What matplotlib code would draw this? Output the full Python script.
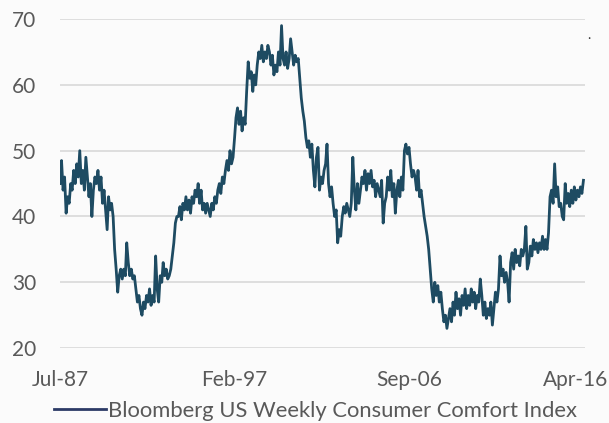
import matplotlib
matplotlib.use("Agg")
import matplotlib.pyplot as plt
import pandas as pd

# Bloomberg US Weekly Consumer Comfort Index (one value per month)
comfort = [
    45, 48.5, 44, 46, 40.5, 43,                                   # 1987 (Jul-Dec)
    42, 45, 44, 47, 45, 48, 46, 50, 45, 47, 44, 49,               # 1988
    46, 43, 45, 40, 44, 46, 45, 47, 44, 46, 42, 44,               # 1989
    41, 38, 43, 41, 42, 40, 35, 32, 28.5, 31, 32, 30.5,           # 1990
    32, 31, 36, 33, 31, 32, 30.5, 31, 29, 27, 28, 26,             # 1991
    25, 27, 26, 28, 27, 29, 26.5, 28, 27, 34, 29, 27,             # 1992
    31, 30, 33, 31, 32, 30.5, 31, 32, 34, 36, 39, 40,             # 1993
    40, 41.5, 39.5, 42, 41, 43, 41, 42.5, 40.5, 43, 42, 44,       # 1994
    43, 45, 42, 44, 41, 42, 40.5, 42, 41, 40, 42, 41,             # 1995
    43, 42, 44, 45, 43.5, 46, 45, 47, 48.5, 47, 50, 48,           # 1996
    49, 52, 55, 56.5, 54, 56, 53, 55, 54, 59, 63.5, 61,           # 1997
    62, 59, 61.5, 60, 63, 65, 64, 66, 63.5, 65, 64, 66,           # 1998
    65, 63, 64.5, 61.5, 63, 62, 65, 63, 69, 64, 63, 65,           # 1999
    62.5, 64, 67, 65, 63, 64.5, 63.5, 64, 61, 58, 56, 54.5,       # 2000
    52, 50.5, 51.5, 49, 51, 47, 44.5, 49, 50.5, 44, 46, 45,       # 2001
    47, 48, 51, 45, 43, 44.5, 42, 40, 41, 36, 38, 37,             # 2002
    40, 41.5, 40.5, 42, 41, 40, 42, 49, 44, 41, 45, 42,           # 2003
    44, 46, 45, 47, 44, 46.5, 45, 47, 44.5, 45.5, 43, 45,         # 2004
    44, 43, 45.5, 39, 42, 43, 46, 44, 47, 43, 45, 40.5,           # 2005
    44, 45.5, 43, 46, 44, 50, 51, 49.5, 50.5, 48, 46, 47,         # 2006
    46, 44, 47, 43, 44, 42, 40, 38.5, 37, 35, 32, 29,             # 2007
    27, 30, 28, 29.5, 27, 28.5, 26, 24, 25, 23, 24.5, 26,         # 2008
    24, 27, 25, 28.5, 26, 27.5, 25, 28, 26.5, 29, 26, 28,         # 2009
    26.5, 29, 27, 28.5, 26, 28, 27, 30.5, 28, 25, 27, 24.5,       # 2010
    26, 25, 27, 23.5, 26, 28.5, 27, 29, 34, 31, 32, 30,           # 2011
    31.5, 30, 27, 33, 34.5, 32, 35, 33, 34, 32.5, 35, 34,         # 2012
    35, 38.5, 32, 33, 35.5, 34, 36.5, 35, 36, 34.5, 36, 35,       # 2013
    37, 35, 36.5, 35, 37.5, 43, 44, 42, 48, 43, 44.5, 41.5,       # 2014
    42, 40, 39.5, 45, 42, 43.5, 41.5, 44, 42, 44.5, 42.5, 44,     # 2015
    43, 44.5, 43.5, 45.5,                                         # 2016 (Jan-Apr)
]
dates = pd.date_range("1987-07-01", periods=len(comfort), freq="MS")
tick_dates = pd.to_datetime(["1987-07-01", "1997-02-01", "2006-09-01", "2016-04-01"])
tick_labels = ["Jul-87", "Feb-97", "Sep-06", "Apr-16"]
y_ticks = [20, 30, 40, 50, 60, 70]

text_col = "#595959"
line_col = "#1e4b62"

plt.rcParams["font.family"] = ["Lato", "DejaVu Sans"]

fig = plt.figure(figsize=(6.09, 4.23), dpi=100)
fig.patch.set_facecolor("#fbfbfb")
ax = fig.add_axes([0.0985, 0.177, 0.862, 0.778])
ax.set_facecolor("#fbfbfb")

ax.plot(dates, comfort, color=line_col, lw=2.0,
        label="Bloomberg US Weekly Consumer Comfort Index")

ax.set_ylim(20, 70)
ax.set_yticks(y_ticks)
ax.set_xlim(dates[0], pd.Timestamp("2016-05-01"))
ax.set_xticks(tick_dates)
# last label sits right at the image edge, so it is drawn separately, nudged left
ax.set_xticklabels(tick_labels[:-1] + [""])
ax.annotate(tick_labels[-1], xy=(tick_dates[-1], 0), xycoords=("data", "axes fraction"),
            xytext=(-6, -16), textcoords="offset points", ha="center", va="top",
            fontsize=15, color=text_col)
ax.grid(axis="y", color="#d9d9d9", lw=1.2)
ax.set_axisbelow(True)
for s in ax.spines.values():
    s.set_visible(False)
ax.tick_params(length=0, labelsize=15, colors=text_col)
ax.tick_params(axis="x", pad=16)
ax.tick_params(axis="y", pad=17)

leg = fig.legend(loc="center", bbox_to_anchor=(0.518, 0.028), frameon=False,
                 fontsize=15.8, handlelength=2.4, handletextpad=0.1,
                 borderaxespad=0)
for t in leg.get_texts():
    t.set_color(text_col)
leg.get_lines()[0].set_color("#2c3a66")

# stray mark in the top right of the original
fig.text(0.965, 0.908, ".", color="#333333", fontsize=10)

fig.savefig("out.png", dpi=100, facecolor=fig.get_facecolor())
